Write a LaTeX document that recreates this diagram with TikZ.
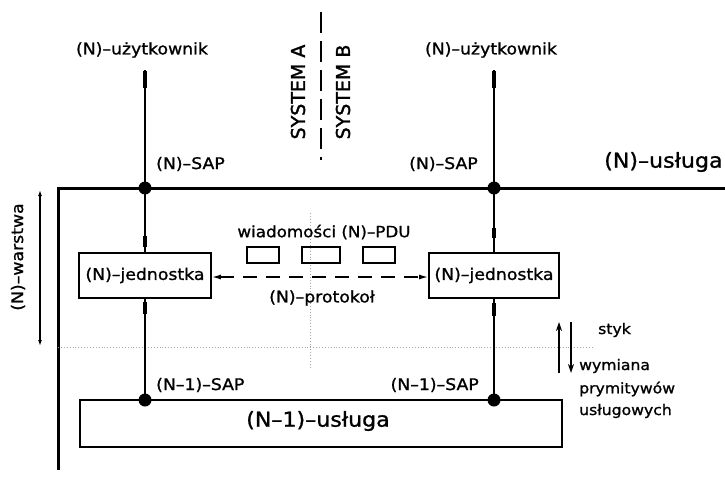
\documentclass[tikz,border=0pt]{standalone}
\usepackage{fontspec}
\setmainfont{DejaVu Sans}[FakeStretch=1.08, FakeBold=1.1]
\newfontfamily\sysfont{DejaVu Sans}[FakeBold=1.6]
\usetikzlibrary{arrows.meta}
\begin{document}
\begin{tikzpicture}[x=1pt,y=-1pt,
  lab/.style={font=\fontsize{16}{18}\selectfont, inner sep=0pt},
  big/.style={font=\fontsize{20.5}{23}\selectfont, inner sep=0pt},
  small/.style={font=\fontsize{14.5}{16}\selectfont, inner sep=0pt, anchor=west},
  sys/.style={font=\sysfont\fontsize{19}{21}\selectfont, inner sep=0pt, rotate=90},
  entity/.style={draw, line width=1.8pt, minimum height=45pt, inner sep=1pt, font=\fontsize{16}{18}\selectfont},
  conn/.style={line width=1.2pt},
  frame/.style={line width=3pt},
  bar/.style={line width=3.2pt},
  sapdot/.style={circle, fill, minimum size=13pt, inner sep=0pt},
  pdu/.style={draw, line width=1.3pt, minimum width=32pt, minimum height=16pt, inner sep=0pt},
  faint/.style={gray!70, dotted, line width=0.9pt},
  updown/.style={line width=2pt, -{Stealth[length=9pt,width=6pt]}}
]
\useasboundingbox (0,0) rectangle (725,480);

% system separator
\coordinate (sepT) at (321,12);
\coordinate (sepB) at (321,160);
\draw[conn, dash pattern=on 21pt off 8pt] (sepT) -- (sepB);
\node[sys] (sysA) at (298,92) {SYSTEM A};
\node[sys] (sysB) at (343,92) {SYSTEM B};

% users
\node[lab] (userL) at (142,50) {(N)–użytkownik};
\node[lab] (userR) at (491,50) {(N)–użytkownik};
\coordinate (uL) at (145,70);
\coordinate (uR) at (494,70);

% frame
\coordinate (fTL) at (58,188);
\coordinate (fTR) at (725,188);
\coordinate (fBL) at (58,470);
\draw[frame] (fTR) -- (fTL) -- (fBL);

% SAP points
\coordinate (sTL) at (145,188);
\coordinate (sTR) at (494,188);
\coordinate (sBL) at (145,400);
\coordinate (sBR) at (494,400);

% entities
\node[entity, minimum width=132pt] (entL) at (145,275.5) {(N)–jednostka};
\node[entity, minimum width=130pt] (entR) at (494,275.5) {(N)–jednostka};

% lower service box
\node[draw, line width=1.8pt, minimum width=482pt, minimum height=47pt] (lower) at (321,423.5) {};
\node[big] (lowerT) at (318,421) {(N–1)–usługa};

% faint dotted lines
\coordinate (dvT) at (310,213);
\coordinate (dvB) at (310,367);
\draw[faint] (dvT) -- (dvB);
\coordinate (dhL) at (58,347);
\coordinate (dhR) at (592,347);
\draw[faint] (dhL) -- (dhR);

% vertical connectors
\draw[conn] (uL) -- (sTL) -- (entL.north);
\draw[conn] (entL.south) -- (sBL);
\draw[conn] (uR) -- (sTR) -- (entR.north);
\draw[conn] (entR.south) -- (sBR);

% small thick bars
\coordinate (bL1a) at (145,71); \coordinate (bL1b) at (145,88);
\coordinate (bR1a) at (494,71); \coordinate (bR1b) at (494,88);
\coordinate (bL2a) at (145,236); \coordinate (bL2b) at (145,247);
\coordinate (bR2a) at (494,228); \coordinate (bR2b) at (494,238);
\coordinate (bL3a) at (145,302); \coordinate (bL3b) at (145,314);
\coordinate (bR3a) at (494,303); \coordinate (bR3b) at (494,316);
\draw[bar] (bL1a) -- (bL1b);
\draw[bar] (bR1a) -- (bR1b);
\draw[bar] (bL2a) -- (bL2b);
\draw[bar] (bR2a) -- (bR2b);
\draw[bar] (bL3a) -- (bL3b);
\draw[bar] (bR3a) -- (bR3b);

% SAP dots
\node[sapdot] (dTL) at (sTL) {};
\node[sapdot] (dTR) at (sTR) {};
\node[sapdot] (dBL) at (sBL) {};
\node[sapdot] (dBR) at (sBR) {};

% SAP labels
\node[lab, anchor=west] (sapL) at (156,164) {(N)–SAP};
\node[lab, anchor=east] (sapR) at (478,164) {(N)–SAP};
\node[big, anchor=west] (serv) at (604,162) {(N)–usługa};
\node[lab, anchor=west] (sap1L) at (156,385) {(N–1)–SAP};
\node[lab, anchor=east] (sap1R) at (479,385) {(N–1)–SAP};

% protocol
\draw[line width=1.4pt, dash pattern=on 14pt off 9pt,
      {Latex[length=9pt,width=5pt]}-{Latex[length=9pt,width=5pt]}]
      (entL.east |- 0,277) -- (entR.west |- 0,277);
\node[pdu] (p1) at (263,255) {};
\node[pdu, minimum width=38pt] (p2) at (321,255) {};
\node[pdu] (p3) at (379,255) {};
\node[lab, font=\fontsize{15.5}{17}\selectfont] (msg) at (324,232) {wiadomości (N)–PDU};
\node[lab] (prot) at (322,298) {(N)–protokoł};

% layer
\node[lab, rotate=90] (warstwa) at (18,257) {(N)–warstwa};
\coordinate (wT) at (40,190);
\coordinate (wB) at (40,346);
\draw[line width=2pt, {Latex[length=6pt,width=4pt]}-{Latex[length=6pt,width=4pt]}] (wT) -- (wB);

% interface
\coordinate (upA) at (559,373);
\coordinate (upB) at (559,322);
\coordinate (dnA) at (571,322);
\coordinate (dnB) at (571,373);
\draw[updown] (upA) -- (upB);
\draw[updown] (dnA) -- (dnB);
\node[small] (styk) at (598,330) {styk};
\node[small] (wym) at (579,366) {wymiana};
\node[small] (prym) at (579,389) {prymitywów};
\node[small] (uslg) at (579,411) {usługowych};
\end{tikzpicture}
\end{document}
